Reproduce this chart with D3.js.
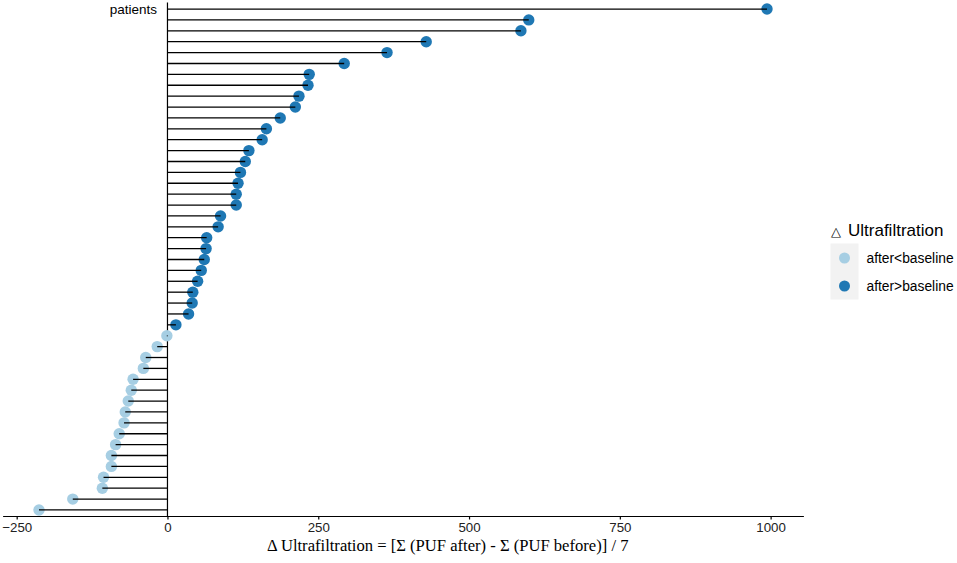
<!DOCTYPE html>
<html>
<head>
<meta charset="utf-8">
<script src="https://cdn.jsdelivr.net/npm/d3@7"></script>
<style>
  html, body { margin: 0; padding: 0; background: #fff; }
  svg { display: block; }
</style>
</head>
<body>
<svg id="chart" width="957" height="563"></svg>
<script>
// ---- data (sorted as plotted, top to bottom) ----
const patients = ["P01","P02","P03","P04","P05","P06","P07","P08","P09","P10",
  "P11","P12","P13","P14","P15","P16","P17","P18","P19","P20",
  "P21","P22","P23","P24","P25","P26","P27","P28","P29","P30",
  "P31","P32","P33","P34","P35","P36","P37","P38","P39","P40",
  "P41","P42","P43","P44","P45","P46","P47"];
const deltaUF = [994, 599, 586, 429, 364, 293, 235, 233, 218, 212,
  187, 164, 157, 135, 129, 121, 117, 114, 114, 88,
  84, 65, 64, 61, 56, 50, 42, 41, 35, 14,
  -1, -17, -36, -40, -57, -60, -65, -70, -72, -80,
  -86, -93, -93, -106, -108, -157, -213];
const groups = ["after<baseline", "after>baseline"];
const groupColors = ["#a6cee3", "#1f78b4"];
const xTicks = [-250, 0, 250, 500, 750, 1000];

const data = patients.map((p, i) => ({
  patient: p, value: deltaUF[i],
  group: deltaUF[i] < 0 ? groups[0] : groups[1]
}));

const svg = d3.select("#chart");
const panel = { left: 2.6, right: 803.4, top: 2.5, bottom: 516.5 };

// ggplot-like 5% expansion of data range
const ext = d3.extent(deltaUF);
const pad = (ext[1] - ext[0]) * 0.05;
const x = d3.scaleLinear().domain([ext[0] - pad, ext[1] + pad]).range([panel.left, panel.right]);
const y = d3.scalePoint().domain(patients).range([panel.top, panel.bottom]).padding(0.6);
const color = d3.scaleOrdinal().domain(groups).range(groupColors);

// vertical zero line
svg.append("line")
  .attr("x1", x(0)).attr("x2", x(0))
  .attr("y1", panel.top).attr("y2", panel.bottom)
  .attr("stroke", "#000").attr("stroke-width", 1.2);

// points
svg.append("g").selectAll("circle").data(data).join("circle")
  .attr("cx", d => x(d.value))
  .attr("cy", d => y(d.patient))
  .attr("r", 5.7)
  .attr("fill", d => color(d.group));

// segments (drawn over the points)
svg.append("g").selectAll("line").data(data).join("line")
  .attr("x1", x(0)).attr("x2", d => x(d.value))
  .attr("y1", d => y(d.patient)).attr("y2", d => y(d.patient))
  .attr("stroke", "#000").attr("stroke-width", 1.3);

// x axis
const xAxis = svg.append("g")
  .attr("transform", `translate(0,${panel.bottom - 0.5})`)
  .call(d3.axisBottom(x).tickValues(xTicks).tickSize(3.5).tickSizeOuter(0).tickPadding(3.5)
    .tickFormat(d3.format("d")));
xAxis.select(".domain").attr("stroke", "#000").attr("stroke-width", 1.2);
xAxis.selectAll(".tick line").attr("stroke", "#000").attr("stroke-width", 1.2);
xAxis.selectAll(".tick text")
  .attr("fill", "#222")
  .style("font-family", "Liberation Sans, Arial, sans-serif")
  .style("font-size", "13.3px");

// y axis title at top
svg.append("text")
  .attr("x", 157).attr("y", 13.5)
  .attr("text-anchor", "end")
  .style("font-family", "Liberation Sans, Arial, sans-serif")
  .style("font-size", "13.5px")
  .attr("fill", "#000")
  .text("patients");

// x axis title (serif)
svg.append("text")
  .attr("x", 267).attr("y", 550.5)
  .attr("text-anchor", "start")
  .style("font-family", "Liberation Serif, Times New Roman, serif")
  .style("font-size", "16.6px")
  .attr("fill", "#000")
  .text("Δ Ultrafiltration = [Σ (PUF after) - Σ (PUF before)] / 7");

// legend
const lg = svg.append("g");
const lt = lg.append("text")
  .attr("x", 830.5).attr("y", 235.5)
  .style("font-family", "Liberation Sans, Arial, sans-serif")
  .attr("fill", "#000");
lt.append("tspan").style("font-size", "12.5px").text("△");
lt.append("tspan").attr("x", 848).style("font-size", "17px").text("Ultrafiltration");

lg.append("rect")
  .attr("x", 830.5).attr("y", 243.5).attr("width", 28).attr("height", 56)
  .attr("fill", "#f2f2f2");
groups.forEach((g, i) => {
  const cy = 258 + i * 28;
  lg.append("circle").attr("cx", 844.5).attr("cy", cy).attr("r", 5.5).attr("fill", color(g));
  lg.append("text")
    .attr("x", 866.5).attr("y", cy + 5)
    .style("font-family", "Liberation Sans, Arial, sans-serif")
    .style("font-size", "13.8px")
    .attr("fill", "#000")
    .text(g);
});
</script>
</body>
</html>
